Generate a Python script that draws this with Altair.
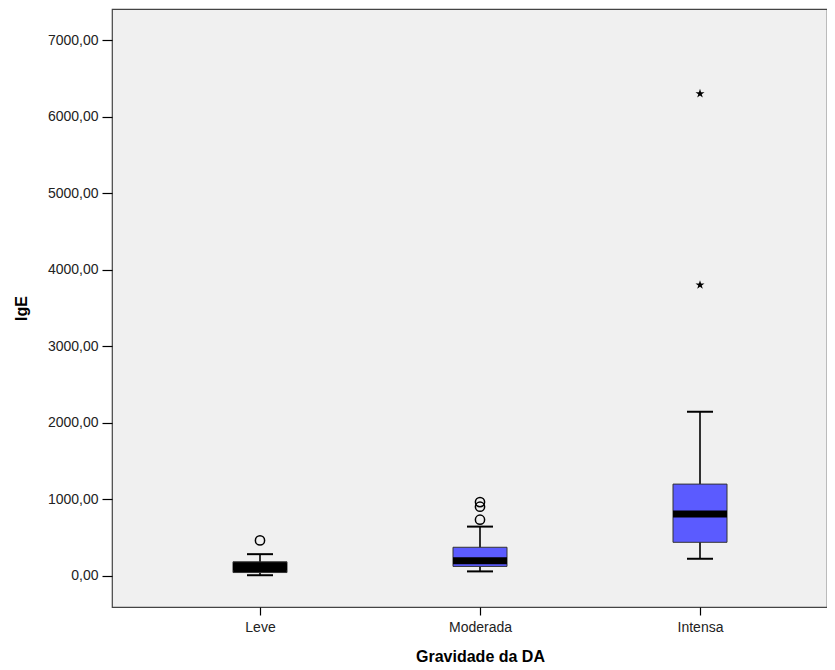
import altair as alt
import pandas as pd

categories = ["Leve", "Moderada", "Intensa"]
lower_whisker = [10, 60, 225]
q1 = [45, 125, 440]
median = [120, 200, 810]
q3 = [185, 375, 1200]
upper_whisker = [285, 645, 2145]

outlier_cat = ["Leve", "Moderada", "Moderada", "Moderada"]
outlier_val = [465, 735, 905, 965]
extreme_cat = ["Intensa", "Intensa"]
extreme_val = [3800, 6300]

stats = pd.DataFrame({
    "category": categories,
    "lower": lower_whisker,
    "q1": q1,
    "median": median,
    "q3": q3,
    "upper": upper_whisker,
})
outliers = pd.DataFrame({"category": outlier_cat, "value": outlier_val})
extremes = pd.DataFrame({"category": extreme_cat, "value": extreme_val})

FONT = "Liberation Sans"

x_enc = alt.X(
    "category:N",
    sort=categories,
    scale=alt.Scale(type="point", domain=categories, range=[148, 588], padding=0),
    axis=alt.Axis(
        title="Gravidade da DA",
        labelAngle=0,
        domain=False,
        grid=False,
        ticks=True,
        tickSize=8,
        tickColor="#000000",
        tickWidth=1.2,
        labelFont=FONT,
        labelFontSize=14,
        labelColor="#222222",
        labelPadding=5,
        titleFont=FONT,
        titleFontSize=16,
        titleFontWeight="bold",
        titleColor="#000000",
        titlePadding=14,
    ),
)

y_scale = alt.Scale(domain=[-405, 7405], nice=False, zero=False)
y_axis = alt.Axis(
    title="IgE",
    values=[0, 1000, 2000, 3000, 4000, 5000, 6000, 7000],
    labelExpr="replace(format(datum.value, '.2f'), '.', ',')",
    domain=False,
    grid=False,
    tickSize=10,
    tickColor="#000000",
    tickWidth=1.2,
    labelFont=FONT,
    labelFontSize=14,
    labelColor="#222222",
    labelPadding=4,
    minExtent=65,
    maxExtent=65,
    titleFont=FONT,
    titleFontSize=16,
    titleFontWeight="bold",
    titleColor="#000000",
    titlePadding=18,
)

base = alt.Chart(stats)

whisker = base.mark_rule(color="#000000", strokeWidth=1.6).encode(
    x=x_enc,
    y=alt.Y("lower:Q", scale=y_scale, axis=y_axis),
    y2="upper:Q",
)

box = base.mark_bar(size=54, stroke="#333333", strokeWidth=1).encode(
    x=x_enc,
    y=alt.Y("q1:Q", scale=y_scale),
    y2="q3:Q",
    fill=alt.condition(alt.datum.category == "Leve", alt.value("#000000"), alt.value("#5b5bff")),
)

med = base.mark_tick(color="#000000", size=54, thickness=7, opacity=1).encode(
    x=x_enc,
    y=alt.Y("median:Q", scale=y_scale),
)

cap_low = base.mark_tick(color="#000000", size=26, thickness=2, opacity=1).encode(
    x=x_enc,
    y=alt.Y("lower:Q", scale=y_scale),
)
cap_high = base.mark_tick(color="#000000", size=26, thickness=2, opacity=1).encode(
    x=x_enc,
    y=alt.Y("upper:Q", scale=y_scale),
)

circles = alt.Chart(outliers).mark_point(
    shape="circle", filled=False, size=85, stroke="#000000", strokeWidth=1.5, opacity=1
).encode(
    x=x_enc,
    y=alt.Y("value:Q", scale=y_scale),
)

STAR = ("M0,-1 L0.2245,-0.309 L0.951,-0.309 L0.363,0.118 L0.588,0.809 "
        "L0,0.382 L-0.588,0.809 L-0.363,0.118 L-0.951,-0.309 L-0.2245,-0.309 Z")
stars = alt.Chart(extremes).mark_point(
    shape=STAR, filled=True, size=90, color="#000000", opacity=1
).encode(
    x=x_enc,
    y=alt.Y("value:Q", scale=y_scale),
)

chart = alt.layer(whisker, box, med, cap_low, cap_high, circles, stars).properties(
    width=715,
    height=598,
    padding={"left": 5, "top": 1, "right": 0, "bottom": 0},
    background="#ffffff",
).configure_view(
    fill="#f0f0f0",
    stroke="#444444",
    strokeWidth=1.2,
)

chart.save("out.html", embed_options={"renderer": "svg", "actions": False})
